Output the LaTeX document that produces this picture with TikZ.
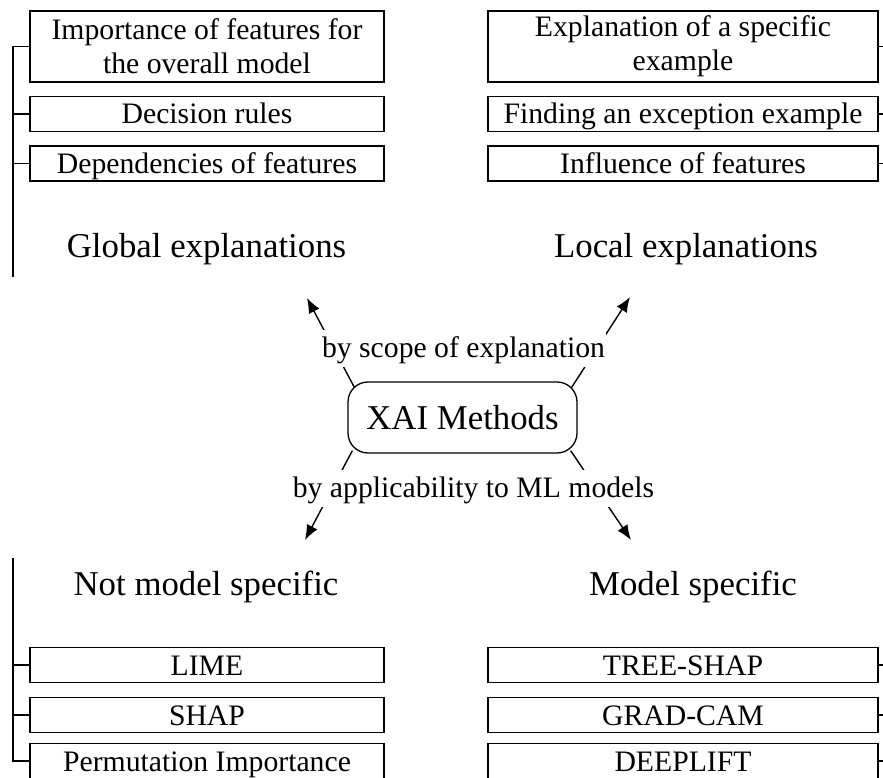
\documentclass[tikz,border=0pt]{standalone}
\usepackage{fontspec}
\setmainfont{Liberation Serif}
\usetikzlibrary{arrows.meta}
\begin{document}
\begin{tikzpicture}[x=1pt,y=-1pt,
  leaf/.style={draw,line width=1.3pt,inner sep=0pt,align=center,
    font=\fontsize{29.7}{34}\selectfont},
  oneline/.style={text height=22pt,text depth=2pt},
  lbox/.style={leaf,minimum width=354pt,minimum height=35pt},
  rbox/.style={leaf,minimum width=390pt,minimum height=35pt},
  branch/.style={line width=1.3pt},
  cat/.style={anchor=base,inner sep=0pt,font=\fontsize{34.8}{40}\selectfont},
  hub/.style={draw,line width=1.3pt,rounded corners=20pt,minimum width=229pt,
    minimum height=71pt,inner sep=0pt,font=\fontsize{34.8}{40}\selectfont},
  edgelabel/.style={anchor=base,fill=white,inner xsep=1pt,inner ysep=2pt,
    text height=25pt,text depth=8pt,font=\fontsize{29.7}{34}\selectfont},
  arrow/.style={line width=1.4pt,-{Latex[length=15pt,width=12pt]}}
]
\useasboundingbox (0,0) rectangle (883,778);

% central node
\node[hub] (xai) at (462.5,417.5) {XAI Methods};

% category headings
\node[cat] (glob) at (206.5,257) {Global explanations};
\node[cat] (loc)  at (686,257)   {Local explanations};
\node[cat] (nms)  at (206,595)   {Not model specific};
\node[cat] (ms)   at (693,595)   {Model specific};

% arrow tips next to the headings
\coordinate (tipGlob) at (307,298);
\coordinate (tipLoc)  at (630,297);
\coordinate (tipNms)  at (305,540);
\coordinate (tipMs)   at (631,540);

\draw[arrow] ([shift={(7,6)}]xai.north west)  -- (tipGlob);
\draw[arrow] ([shift={(-6,6)}]xai.north east) -- (tipLoc);
\draw[arrow] ([shift={(5,-3)}]xai.south west) -- (tipNms);
\draw[arrow] ([shift={(-7,-3)}]xai.south east) -- (tipMs);

\node[edgelabel] (scope) at (463.5,357) {by scope of explanation};
\node[edgelabel] (appl)  at (473.5,497) {by applicability to ML models};

% global explanations
\node[lbox,minimum height=71pt] (g1) at (207,46.5) {Importance of features for\\the overall model};
\node[lbox,oneline] (g2) at (207,114)   {Decision rules};
\node[lbox,oneline] (g3) at (207,163.5) {Dependencies of features};

% local explanations
\node[rbox,minimum height=71pt] (l1) at (683,46.5) {Explanation of a specific\\example};
\node[rbox,oneline] (l2) at (683,114)   {Finding an exception example};
\node[rbox,oneline] (l3) at (683,163.5) {Influence of features};

% not model specific
\node[lbox,oneline] (n1) at (207,665) {LIME};
\node[lbox,oneline] (n2) at (207,715) {SHAP};
\node[lbox,oneline] (n3) at (207,761) {Permutation Importance};

% model specific
\node[rbox,oneline] (m1) at (683,665) {TREE-SHAP};
\node[rbox,oneline] (m2) at (683,715) {GRAD-CAM};
\node[rbox,oneline] (m3) at (683,761) {DEEPLIFT};

% tree brackets
\coordinate (gbot) at (13,277);
\draw[branch] (gbot) |- (g1.west);
\draw[branch] (g2.west) -- (g2.west -| gbot);
\draw[branch] (g3.west) -- (g3.west -| gbot);

\coordinate (ntop) at (13,558);
\draw[branch] (ntop) |- (n3.west);
\draw[branch] (n1.west) -- (n1.west -| ntop);
\draw[branch] (n2.west) -- (n2.west -| ntop);

\coordinate (redge) at (884,0);
\foreach \b in {l1,l2,l3,m1,m2,m3}
  \draw[branch] (\b.east) -- (\b.east -| redge);
\end{tikzpicture}
\end{document}
